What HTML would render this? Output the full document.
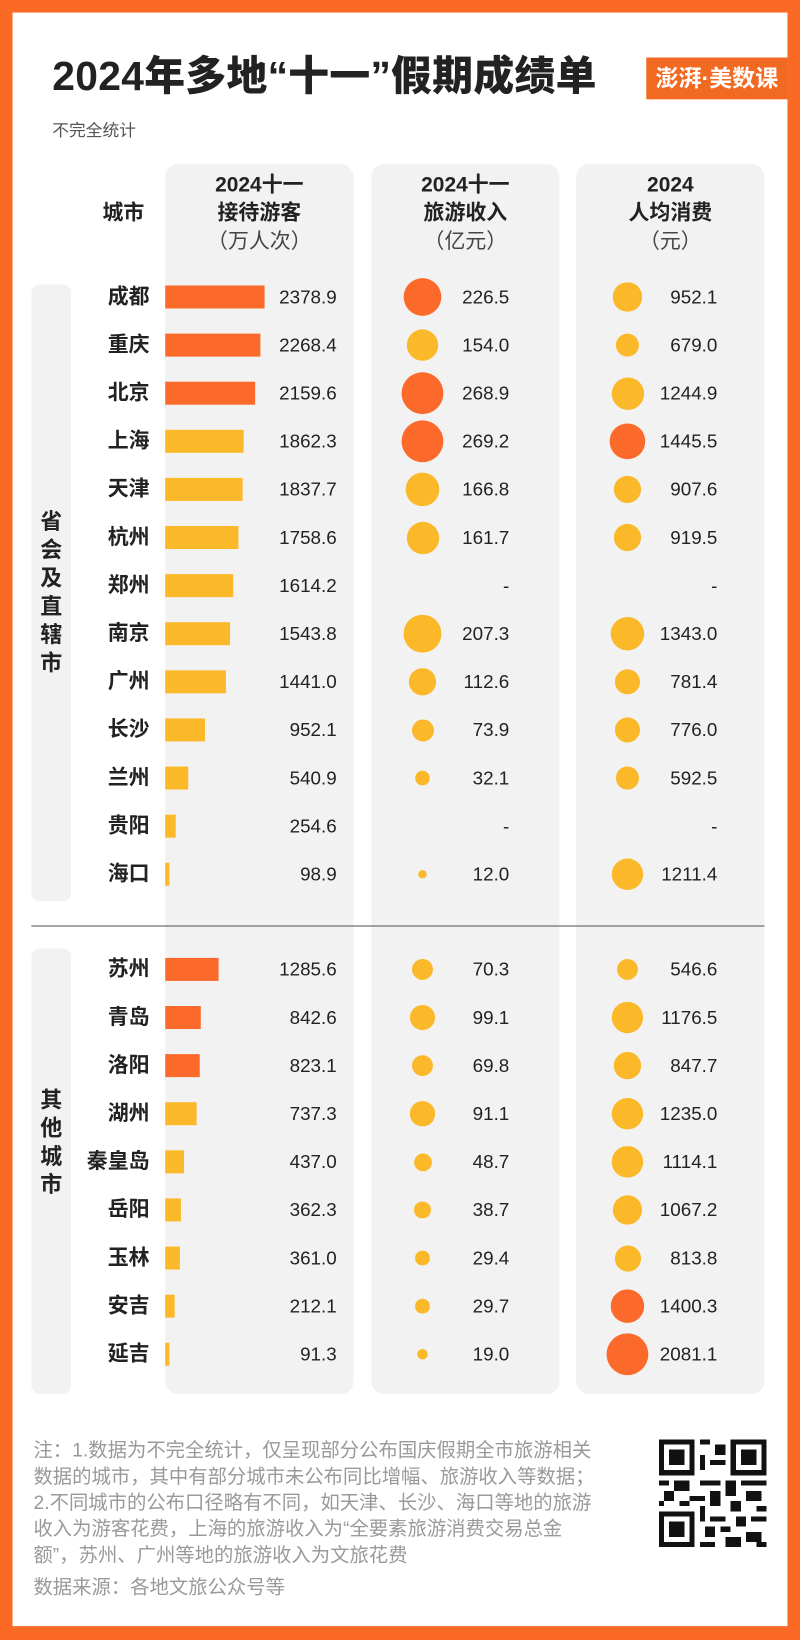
<!DOCTYPE html>
<html><head><meta charset="utf-8"><style>
*{margin:0;padding:0;box-sizing:border-box}
html,body{width:800px;height:1640px;overflow:hidden;background:#fb6a25}
#w{position:absolute;left:0;top:0;width:765px;height:1568px;transform:scale(1.04575);transform-origin:0 0;font-family:"Liberation Sans","Noto Sans CJK SC",sans-serif;color:#222}
.p{position:absolute;left:12px;top:12px;width:741px;height:1543px;background:#fff}
.g{position:absolute;background:#f2f2f2;border-radius:12px}
.h{position:absolute;text-align:center;font-weight:bold;font-size:20px;line-height:27px}
.h span{font-weight:normal;color:#444}
.r{position:absolute;left:0;width:765px;height:46px}
.n{position:absolute;right:622px;top:10px;font-size:20px;font-weight:bold;line-height:26px;white-space:nowrap}
.b{position:absolute;left:158px;top:12px;height:22px}
.v{position:absolute;top:12px;font-size:18px;line-height:22px;color:#222;text-align:right}
.v1{right:443px}.v2{right:278px}.v3{right:79px}
.c{position:absolute;border-radius:50%}
.O{background:#fb6a2a}.Y{background:#fbb829}
.gl{position:absolute;left:30px;width:38px;font-size:21px;font-weight:bold;text-align:center;line-height:27px}
.ft{position:absolute;left:32px;font-size:18.5px;color:#999;line-height:25px;white-space:nowrap}
</style></head><body><div id="w">
<div class="p"></div>
<div style="position:absolute;left:50px;top:50px;font-size:39px;font-weight:900;line-height:48px;letter-spacing:0.3px">2024年多地“十一”假期成绩单</div>
<div style="position:absolute;left:618px;top:55px;width:135px;height:40px;background:#f26a22;color:#fff;font-size:22px;line-height:40px;text-align:center;font-weight:bold">澎湃·美数课</div>
<div style="position:absolute;left:50px;top:111px;font-size:16px;color:#555">不完全统计</div>
<div class="g" style="left:158px;top:157px;width:180px;height:1176px"></div>
<div class="g" style="left:355px;top:157px;width:180px;height:1176px"></div>
<div class="g" style="left:551px;top:157px;width:180px;height:1176px"></div>
<div class="g" style="left:30px;top:272px;width:38px;height:590px;border-radius:8px"></div>
<div class="g" style="left:30px;top:907px;width:38px;height:426px;border-radius:8px"></div>
<div style="position:absolute;left:30px;top:885px;width:701px;height:1px;background:#555"></div>
<div class="gl" style="top:486px">省<br>会<br>及<br>直<br>辖<br>市</div>
<div class="gl" style="top:1039px">其<br>他<br>城<br>市</div>
<div class="h" style="left:88px;top:191px;width:60px">城市</div>
<div class="h" style="left:158px;top:164px;width:180px">2024十一<br>接待游客<br><span>（万人次）</span></div>
<div class="h" style="left:355px;top:164px;width:180px">2024十一<br>旅游收入<br><span>（亿元）</span></div>
<div class="h" style="left:551px;top:164px;width:180px">2024<br>人均消费<br><span>（元）</span></div>

<div class="r" style="top:261px"><div class="n">成都</div><div class="b O" style="width:95px"></div><div class="v v1">2378.9</div><div class="c O" style="left:385.6px;top:4.6px;width:36.8px;height:36.8px"></div><div class="v v2">226.5</div><div class="c Y" style="left:586.4px;top:9.4px;width:27.2px;height:27.2px"></div><div class="v v3">952.1</div></div>
<div class="r" style="top:307px"><div class="n">重庆</div><div class="b O" style="width:91px"></div><div class="v v1">2268.4</div><div class="c Y" style="left:388.9px;top:7.9px;width:30.2px;height:30.2px"></div><div class="v v2">154.0</div><div class="c Y" style="left:588.6px;top:11.6px;width:22.8px;height:22.8px"></div><div class="v v3">679.0</div></div>
<div class="r" style="top:353px"><div class="n">北京</div><div class="b O" style="width:86px"></div><div class="v v1">2159.6</div><div class="c O" style="left:384px;top:3px;width:40px;height:40px"></div><div class="v v2">268.9</div><div class="c Y" style="left:584.5px;top:7.5px;width:31px;height:31px"></div><div class="v v3">1244.9</div></div>
<div class="r" style="top:399px"><div class="n">上海</div><div class="b Y" style="width:75px"></div><div class="v v1">1862.3</div><div class="c O" style="left:384px;top:3px;width:40px;height:40px"></div><div class="v v2">269.2</div><div class="c O" style="left:583.3px;top:6.3px;width:33.4px;height:33.4px"></div><div class="v v3">1445.5</div></div>
<div class="r" style="top:445px"><div class="n">天津</div><div class="b Y" style="width:74px"></div><div class="v v1">1837.7</div><div class="c Y" style="left:388.3px;top:7.3px;width:31.4px;height:31.4px"></div><div class="v v2">166.8</div><div class="c Y" style="left:586.8px;top:9.8px;width:26.4px;height:26.4px"></div><div class="v v3">907.6</div></div>
<div class="r" style="top:491px"><div class="n">杭州</div><div class="b Y" style="width:70px"></div><div class="v v1">1758.6</div><div class="c Y" style="left:388.5px;top:7.5px;width:31px;height:31px"></div><div class="v v2">161.7</div><div class="c Y" style="left:586.7px;top:9.7px;width:26.6px;height:26.6px"></div><div class="v v3">919.5</div></div>
<div class="r" style="top:537px"><div class="n">郑州</div><div class="b Y" style="width:65px"></div><div class="v v1">1614.2</div><div class="v v2">-</div><div class="v v3">-</div></div>
<div class="r" style="top:583px"><div class="n">南京</div><div class="b Y" style="width:62px"></div><div class="v v1">1543.8</div><div class="c Y" style="left:386.4px;top:5.4px;width:35.2px;height:35.2px"></div><div class="v v2">207.3</div><div class="c Y" style="left:583.9px;top:6.9px;width:32.2px;height:32.2px"></div><div class="v v3">1343.0</div></div>
<div class="r" style="top:629px"><div class="n">广州</div><div class="b Y" style="width:58px"></div><div class="v v1">1441.0</div><div class="c Y" style="left:391.1px;top:10.1px;width:25.8px;height:25.8px"></div><div class="v v2">112.6</div><div class="c Y" style="left:587.7px;top:10.7px;width:24.6px;height:24.6px"></div><div class="v v3">781.4</div></div>
<div class="r" style="top:675px"><div class="n">长沙</div><div class="b Y" style="width:38px"></div><div class="v v1">952.1</div><div class="c Y" style="left:393.5px;top:12.5px;width:21px;height:21px"></div><div class="v v2">73.9</div><div class="c Y" style="left:587.8px;top:10.8px;width:24.4px;height:24.4px"></div><div class="v v3">776.0</div></div>
<div class="r" style="top:721px"><div class="n">兰州</div><div class="b Y" style="width:22px"></div><div class="v v1">540.9</div><div class="c Y" style="left:397.1px;top:16.1px;width:13.8px;height:13.8px"></div><div class="v v2">32.1</div><div class="c Y" style="left:589.3px;top:12.3px;width:21.4px;height:21.4px"></div><div class="v v3">592.5</div></div>
<div class="r" style="top:767px"><div class="n">贵阳</div><div class="b Y" style="width:10px"></div><div class="v v1">254.6</div><div class="v v2">-</div><div class="v v3">-</div></div>
<div class="r" style="top:813px"><div class="n">海口</div><div class="b Y" style="width:4px"></div><div class="v v1">98.9</div><div class="c Y" style="left:399.8px;top:18.8px;width:8.4px;height:8.4px"></div><div class="v v2">12.0</div><div class="c Y" style="left:584.7px;top:7.7px;width:30.6px;height:30.6px"></div><div class="v v3">1211.4</div></div>

<div class="r" style="top:904px"><div class="n">苏州</div><div class="b O" style="width:51px"></div><div class="v v1">1285.6</div><div class="c Y" style="left:393.8px;top:12.8px;width:20.4px;height:20.4px"></div><div class="v v2">70.3</div><div class="c Y" style="left:589.7px;top:12.7px;width:20.6px;height:20.6px"></div><div class="v v3">546.6</div></div>
<div class="r" style="top:950px"><div class="n">青岛</div><div class="b O" style="width:34px"></div><div class="v v1">842.6</div><div class="c Y" style="left:391.9px;top:10.9px;width:24.2px;height:24.2px"></div><div class="v v2">99.1</div><div class="c Y" style="left:584.9px;top:7.9px;width:30.2px;height:30.2px"></div><div class="v v3">1176.5</div></div>
<div class="r" style="top:996px"><div class="n">洛阳</div><div class="b O" style="width:33px"></div><div class="v v1">823.1</div><div class="c Y" style="left:393.8px;top:12.8px;width:20.4px;height:20.4px"></div><div class="v v2">69.8</div><div class="c Y" style="left:587.2px;top:10.2px;width:25.6px;height:25.6px"></div><div class="v v3">847.7</div></div>
<div class="r" style="top:1042px"><div class="n">湖州</div><div class="b Y" style="width:30px"></div><div class="v v1">737.3</div><div class="c Y" style="left:392.4px;top:11.4px;width:23.2px;height:23.2px"></div><div class="v v2">91.1</div><div class="c Y" style="left:584.6px;top:7.6px;width:30.8px;height:30.8px"></div><div class="v v3">1235.0</div></div>
<div class="r" style="top:1088px"><div class="n">秦皇岛</div><div class="b Y" style="width:18px"></div><div class="v v1">437.0</div><div class="c Y" style="left:395.5px;top:14.5px;width:17px;height:17px"></div><div class="v v2">48.7</div><div class="c Y" style="left:585.3px;top:8.3px;width:29.4px;height:29.4px"></div><div class="v v3">1114.1</div></div>
<div class="r" style="top:1134px"><div class="n">岳阳</div><div class="b Y" style="width:15px"></div><div class="v v1">362.3</div><div class="c Y" style="left:396.4px;top:15.4px;width:15.2px;height:15.2px"></div><div class="v v2">38.7</div><div class="c Y" style="left:585.6px;top:8.6px;width:28.8px;height:28.8px"></div><div class="v v3">1067.2</div></div>
<div class="r" style="top:1180px"><div class="n">玉林</div><div class="b Y" style="width:14px"></div><div class="v v1">361.0</div><div class="c Y" style="left:397.4px;top:16.4px;width:13.2px;height:13.2px"></div><div class="v v2">29.4</div><div class="c Y" style="left:587.5px;top:10.5px;width:25px;height:25px"></div><div class="v v3">813.8</div></div>
<div class="r" style="top:1226px"><div class="n">安吉</div><div class="b Y" style="width:9px"></div><div class="v v1">212.1</div><div class="c Y" style="left:397.4px;top:16.4px;width:13.2px;height:13.2px"></div><div class="v v2">29.7</div><div class="c O" style="left:583.6px;top:6.6px;width:32.8px;height:32.8px"></div><div class="v v3">1400.3</div></div>
<div class="r" style="top:1272px"><div class="n">延吉</div><div class="b Y" style="width:4px"></div><div class="v v1">91.3</div><div class="c Y" style="left:398.7px;top:17.7px;width:10.6px;height:10.6px"></div><div class="v v2">19.0</div><div class="c O" style="left:580px;top:3px;width:40px;height:40px"></div><div class="v v3">2081.1</div></div>

<div class="ft" style="top:1374px">注：1.数据为不完全统计，仅呈现部分公布国庆假期全市旅游相关<br>数据的城市，其中有部分城市未公布同比增幅、旅游收入等数据；<br>2.不同城市的公布口径略有不同，如天津、长沙、海口等地的旅游<br>收入为游客花费，上海的旅游收入为“全要素旅游消费交易总金<br>额”，苏州、广州等地的旅游收入为文旅花费</div>
<div class="ft" style="top:1505px">数据来源：各地文旅公众号等</div>
<svg style="position:absolute;left:630px;top:1376px" width="103" height="104" viewBox="0 0 21 21" shape-rendering="crispEdges">
<rect width="21" height="21" fill="#fff"/>
<g fill="#111">
<path d="M0 0h7v7H0zM14 0h7v7h-7zM0 14h7v7H0z"/>
</g>
<g fill="#fff"><path d="M1 1h5v5H1zM15 1h5v5h-5zM1 15h5v5H1z"/></g>
<g fill="#111"><path d="M2 2h3v3H2zM16 2h3v3h-3zM2 16h3v3H2z"/>
<path d="M8 0h2v1H8zM11 1h2v2h-2zM8 3h1v3H8zM10 4h3v1h-3zM0 8h2v1H0zM3 8h3v2H3zM8 8h4v1H8zM13 8h2v3h-2zM16 8h5v1h-5zM1 10h2v2H1zM6 11h3v1H6zM10 10h2v3h-2zM17 10h3v2h-3zM0 12h1v1H0zM4 12h2v1H4zM14 12h2v2h-2zM19 13h2v1h-2zM8 13h1v3H8zM10 15h3v1h-3zM15 15h2v2h-2zM18 15h3v1h-3zM9 17h2v2H9zM12 17h2v1h-2zM17 18h3v2h-3zM8 20h3v1H8zM13 19h3v2h-3zM19 20h2v1h-2z"/></g>
</svg>
</div></body></html>
